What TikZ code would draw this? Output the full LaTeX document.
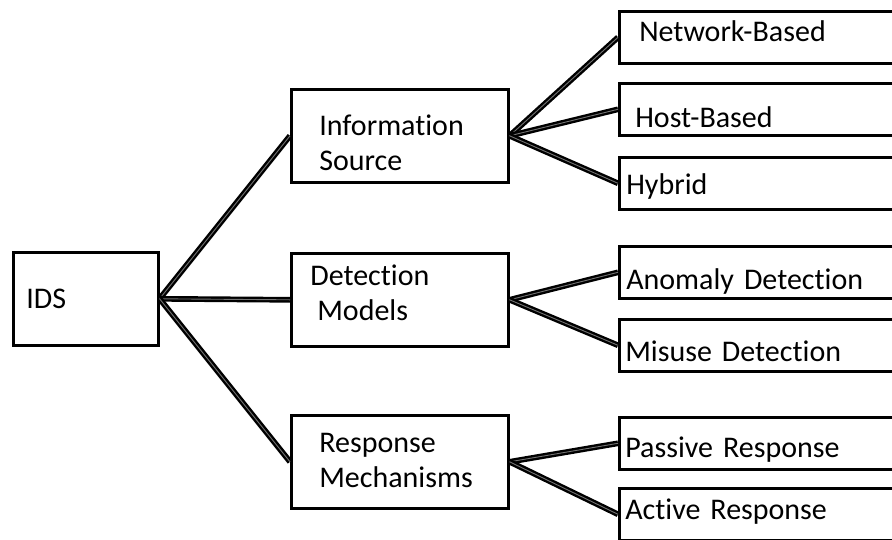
\documentclass[tikz,border=0pt]{standalone}
\usepackage{fontspec}
\setmainfont{Carlito}[Ligatures=NoCommon]
\usepackage{tikz}
\tikzset{%
    every box/.style={
            rectangle,
            draw,
            line width=2.6pt,
            anchor=north west,
            align=left,
            inner ysep=0pt,
            font=\fontsize{30}{35}\selectfont
        },
    link/.style={
            line width=2.4pt,
            double=black!55,
            double distance=0.9pt
        },
}

\begin{document}
\begin{tikzpicture}[x=1pt, y=-1pt]

        \useasboundingbox (0,0) rectangle (892,539);
        \clip (0,0) rectangle (892,539);

        \node [every box, minimum width=145pt, minimum height=93pt,
               inner xsep=13pt, text width=119pt] (ids) at (12,251) {IDS};

        \foreach \n/\y/\p/\h/\t [evaluate=\p as \w using 217-2*\p] in
            {info/88/28/41/{Information\\Source},
             detect/252/19/13/{Detection\\\hspace*{7pt}Models},
             resp/414/28/23/{Response\\Mechanisms}}
        \node [every box, minimum width=217pt, minimum height=93pt,
               inner xsep=\p pt, text width=\w pt,
               text height=\h pt, text depth=42pt] (\n) at (290,\y) {\t};

        \foreach \n/\y/\p/\d/\t [evaluate=\p as \w using 312-2*\p,
                                 evaluate=\d as \th using 20+\d,
                                 evaluate=\d as \td using 7-\d] in
            {net/10/20/-2/Network-Based,
             host/82/16/16/Host-Based,
             hybrid/156/7/5/Hybrid,
             anomaly/245/7/15/Anomaly Detection,
             misuse/318/6/12/Misuse Detection,
             passive/416/6/8/Passive Response,
             active/487/6/-1/Active Response}
        \node [every box, minimum width=312pt, minimum height=52pt,
               inner xsep=\p pt, text width=\w pt,
               text height=\th pt, text depth=\td pt] (\n) at (618,\y) {\t};

        \foreach \j in {info,detect,resp}
        \draw [link] (ids.east) -- (\j.west);

        \foreach \j in {net,host,hybrid}
        \draw [link] (info.east) -- (\j.west);

        \foreach \j in {anomaly,misuse}
        \draw [link] (detect.east) -- (\j.west);

        \foreach \j in {passive,active}
        \draw [link] (resp.east) -- (\j.west);

    \end{tikzpicture}
\end{document}
